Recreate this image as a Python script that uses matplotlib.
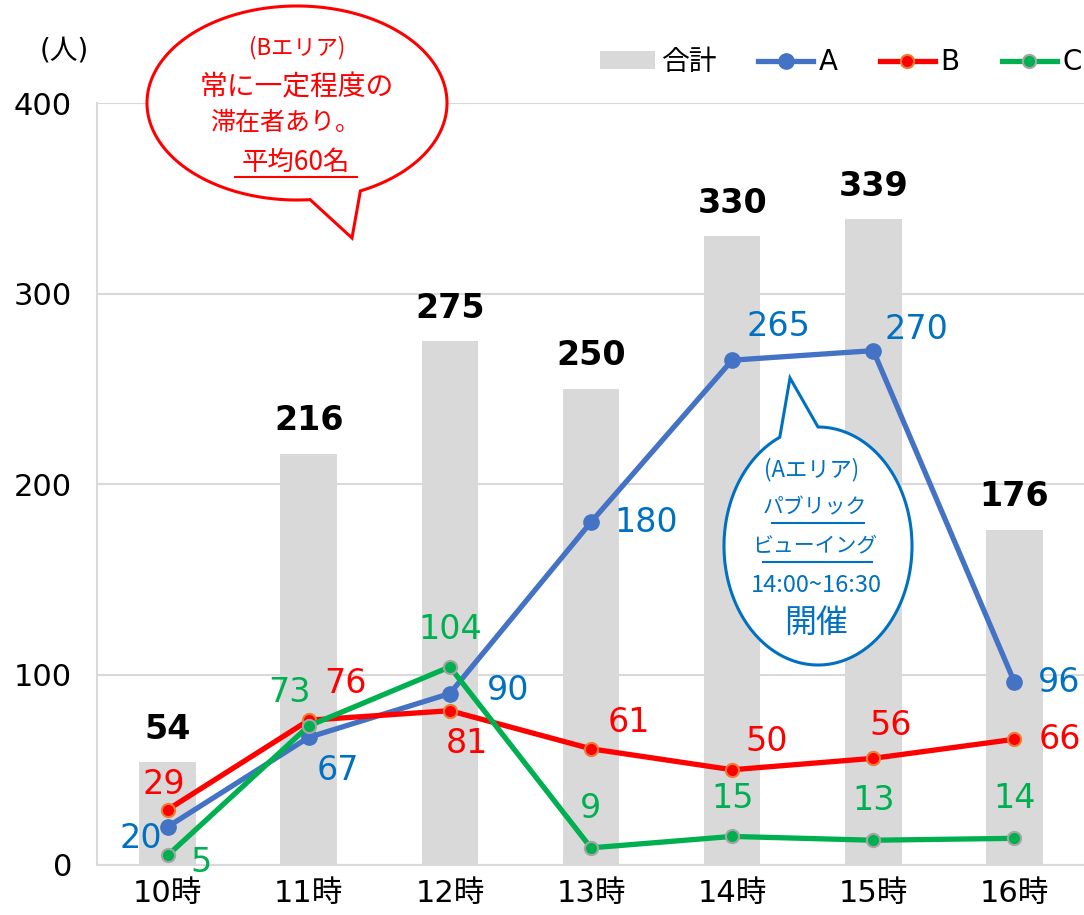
import matplotlib
matplotlib.use('Agg')
import matplotlib.pyplot as plt
import numpy as np
from matplotlib.path import Path
from matplotlib.patches import PathPatch, Patch
from matplotlib.lines import Line2D

plt.rcParams['font.family'] = ['DejaVu Sans', 'Noto Sans CJK JP']

# ---------------- data ----------------
hours = ['10時', '11時', '12時', '13時', '14時', '15時', '16時']
total = [54, 216, 275, 250, 330, 339, 176]
area_a = [20, 67, 90, 180, 265, 270, 96]
area_b = [29, 76, 81, 61, 50, 56, 66]
area_c = [5, 73, 104, 9, 15, 13, 14]
y_ticks = [0, 100, 200, 300, 400]
legend_labels = ['合計', 'A', 'B', 'C']

# label offsets in pixels (dx right, dy up) -- styling only
off_total = [(0, 33)] * 7
off_a = [(-27, -12), (29, -33), (58, 3), (55, 0), (46, 34), (43, 21), (45, 0)]
off_b = [(-4, 25), (37, 37), (17, -33), (38, 26), (34, 28), (17, 33), (45, 0)]
off_c = [(33, -7), (-19, 33), (0, 37), (0, 39), (0, 38), (0, 40), (0, 40)]

COL_BAR = '#D9D9D9'
COL_A = '#4472C4'
COL_A_TXT = '#0070C0'
COL_B = '#FF0000'
COL_C = '#00B050'

W, H = 1084, 915
fig = plt.figure(figsize=(W / 100, H / 100), dpi=100)
ax = fig.add_axes([97 / W, 50 / H, 988 / W, 762 / H])

x = np.arange(len(hours))
ax.bar(x, total, width=0.4, color=COL_BAR, zorder=1)
ax.plot(x, area_a, color=COL_A, lw=3.8, marker='o', ms=11, mfc=COL_A, mec=COL_A, zorder=3)
ax.plot(x, area_b, color=COL_B, lw=3.8, marker='o', ms=9.5, mfc=COL_B, mec='#ED7D31', mew=1.5, zorder=4)
ax.plot(x, area_c, color=COL_C, lw=3.8, marker='o', ms=9.5, mfc=COL_C, mec='#A5A5A5', mew=1.5, zorder=5)

ax.set_xlim(-0.5, len(hours) - 0.5)
ax.set_ylim(0, 400)
ax.set_yticks(y_ticks)
ax.set_xticks(x)
ax.set_xticklabels(hours)
ax.yaxis.grid(True, color=COL_BAR, lw=1.5, zorder=0)
ax.set_axisbelow(True)
for s in ['top', 'right']:
    ax.spines[s].set_visible(False)
for s in ['left', 'bottom']:
    ax.spines[s].set_color(COL_BAR)
    ax.spines[s].set_linewidth(1.5)
ax.tick_params(axis='both', length=0, labelsize=22, colors='black')
ax.tick_params(axis='y', pad=18)
ax.tick_params(axis='x', pad=10)


def put_labels(vals, offs, color, weight='normal', size=24):
    for i, (v, (dx, dy)) in enumerate(zip(vals, offs)):
        ax.annotate(str(v), (i, v), xytext=(dx * 0.72, dy * 0.72), textcoords='offset points',
                    ha='center', va='center', fontsize=size, color=color, weight=weight, zorder=8)


put_labels(total, off_total, 'black', 'bold', 24)
put_labels(area_a, off_a, COL_A_TXT)
put_labels(area_b, off_b, COL_B)
put_labels(area_c, off_c, COL_C)

# legend
handles = [Patch(facecolor=COL_BAR, edgecolor='none'),
           Line2D([], [], color=COL_A, lw=3.8, marker='o', ms=11, mfc=COL_A, mec=COL_A),
           Line2D([], [], color=COL_B, lw=3.8, marker='o', ms=9.5, mfc=COL_B, mec='#ED7D31', mew=1.5),
           Line2D([], [], color=COL_C, lw=3.8, marker='o', ms=9.5, mfc=COL_C, mec='#A5A5A5', mew=1.5)]
fig.legend(handles, legend_labels, loc='center right', bbox_to_anchor=(1082 / W, 1 - 62 / H),
           ncol=4, frameon=False, fontsize=20, handlelength=2.0, handletextpad=0.2,
           columnspacing=1.5, borderaxespad=0, borderpad=0, handleheight=0.6)

# overlay in pixel coordinates for annotations
ov = fig.add_axes([0, 0, 1, 1], zorder=10)
ov.set_xlim(0, W)
ov.set_ylim(H, 0)
ov.axis('off')
ov.patch.set_alpha(0)

ov.text(64, 50, '(人)', ha='center', va='center', fontsize=20, color='black')


def bubble(cx, cy, a, b, t0, t1, tip, color):
    th = np.deg2rad(np.linspace(t0, t1, 240))
    pts = np.column_stack([cx + a * np.cos(th), cy + b * np.sin(th)])
    pts = np.vstack([pts, tip, pts[0]])
    codes = [Path.MOVETO] + [Path.LINETO] * (len(pts) - 2) + [Path.CLOSEPOLY]
    ov.add_patch(PathPatch(Path(pts, codes), facecolor='white', edgecolor=color, lw=2.2,
                           joinstyle='miter'))


# red bubble (B area)
bubble(297, 103, 150, 97, 85, 425, (352, 238), COL_B)
hand = ['Noto Sans CJK JP', 'DejaVu Sans']
ov.text(297, 48, '(Bエリア)', ha='center', va='center', fontsize=16, color=COL_B, family=hand)
ov.text(297, 87, '常に一定程度の', ha='center', va='center', fontsize=20, color=COL_B, family=hand)
ov.text(285, 123, '滞在者あり。', ha='center', va='center', fontsize=18, color=COL_B, family=hand)
ov.text(296, 162, '平均60名', ha='center', va='center', fontsize=19, color=COL_B, family=hand)
ov.plot([235, 357], [177, 177], color=COL_B, lw=1.5)

# blue bubble (A area)
bubble(818, 546, 94, 119, 270, 606, (790, 378), COL_A_TXT)
ov.text(812, 470, '(Aエリア)', ha='center', va='center', fontsize=16, color=COL_A_TXT, family=hand)
ov.text(815, 507, 'パブリック', ha='center', va='center', fontsize=15, color=COL_A_TXT, family=hand)
ov.plot([772, 864], [523, 523], color=COL_A_TXT, lw=1.5)
ov.text(815, 545, 'ビューイング', ha='center', va='center', fontsize=15, color=COL_A_TXT, family=hand)
ov.plot([763, 872], [562, 562], color=COL_A_TXT, lw=1.5)
ov.text(816, 585, '14:00~16:30', ha='center', va='center', fontsize=17, color=COL_A_TXT, family=hand)
ov.text(816, 623, '開催', ha='center', va='center', fontsize=23, color=COL_A_TXT, family=hand)

fig.savefig('out.png', dpi=100)
